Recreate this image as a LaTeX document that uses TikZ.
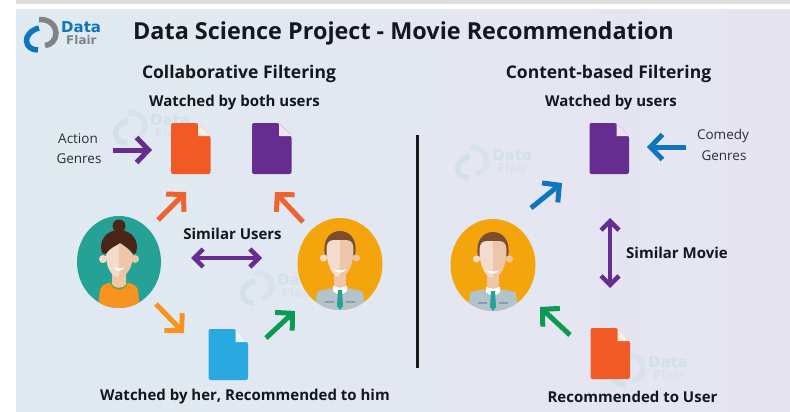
\documentclass[tikz,border=0pt]{standalone}
\usepackage{fontspec}
\setmainfont{Open Sans}
\newfontfamily\logofont{DejaVu Sans}
\usetikzlibrary{arrows.meta}
\definecolor{cPurple}{HTML}{652D90}
\definecolor{cOrange}{HTML}{F15A24}
\definecolor{cBlue}{HTML}{29A9E0}
\definecolor{cArrowBlue}{HTML}{0F75BC}
\definecolor{cGreen}{HTML}{0B9A50}
\definecolor{cLight}{HTML}{F7931E}
\definecolor{cOrangeArrow}{HTML}{EE6430}
\definecolor{cTeal}{HTML}{26A196}
\definecolor{cGold}{HTML}{F4A50E}
\definecolor{cInk}{HTML}{14181E}
\definecolor{cSuit}{HTML}{B3C3CC}
\definecolor{cNeck}{HTML}{EFC7A8}
\definecolor{cSkinL}{HTML}{F3DCCB}
\definecolor{cSkinR}{HTML}{EBC6A8}
\definecolor{cHairM}{HTML}{7C4E2E}
\definecolor{cHairW}{HTML}{4A2618}
\definecolor{cPocket}{HTML}{8C9CA8}
\definecolor{cCollar}{HTML}{5FA844}
\definecolor{wmBlue}{HTML}{D2E0EA}
\definecolor{wmSoft}{HTML}{D8E2EC}
\definecolor{cBgL}{HTML}{DFEAF1}
\definecolor{cBgR}{HTML}{E7E4F2}
\definecolor{cLogoGray}{HTML}{7F8487}
\tikzset{
  x=1pt,y=-1pt,
  heavy/.style={font=\bfseries\fontsize{#1}{#1}\selectfont,text=cInk,inner sep=0pt,anchor=center},
  light/.style={font=\fontsize{#1}{#1}\selectfont,text=cInk!90,inner sep=0pt,anchor=center},
  single/.style={line width=5pt,draw=#1,-{Straight Barb[length=12pt,width=25pt,line width=5pt]}},
  both/.style={line width=4.5pt,draw=#1,{Straight Barb[length=9pt,width=18pt,line width=4.5pt]}-{Straight Barb[length=9pt,width=18pt,line width=4.5pt]}},
  pics/docicon/.style={code={
    \fill[#1,rounded corners=2pt] (0,0) -- (27,0) -- (39.5,13) -- (39.5,51) -- (0,51) -- cycle;
    \fill[white!88!#1] (27,0) -- (39.5,13) -- (27,13) -- cycle;
  }},
  pics/logomark/.style n args={3}{code={
    \draw[#2,line width=5.5pt] (-2,-13.5) .. controls (9,-14) and (15,-7) .. (15,0) .. controls (15,7) and (10,12) .. (4,12.5);
    \draw[#1,line width=5.5pt] (-2,-5) .. controls (-10,-3) and (-15,3) .. (-14.5,8) .. controls (-14,14) and (-9,17) .. (-3,17);
    \node[font=\logofont\bfseries\fontsize{15}{15}\selectfont,text=#1,inner sep=0pt,anchor=west] (-wordA) at (20,-6) {Data};
    \node[font=\logofont\bfseries\fontsize{12}{12}\selectfont,text=#3,inner sep=0pt,anchor=west] (-wordB) at (25,7) {Flair};
  }},
  pics/manface/.style={code={
    \fill[cGold] (0,0) ellipse [x radius=42.5,y radius=46];
    \begin{scope}
      \clip (0,0) ellipse [x radius=42.5,y radius=46];
      \fill[cSuit] (-25,46) -- (-23,28) .. controls (-15,23) and (15,23) .. (23,28) -- (25,46) -- cycle;
    \end{scope}
    \fill[cNeck] (-6,8) rectangle (6,24);
    \fill[cHairM] (-15,-9) .. controls (-18,-24) and (-10,-33) .. (0,-33) .. controls (10,-33) and (18,-24) .. (15,-9) -- (13,-9) -- (13,-20) -- (-13,-20) -- (-13,-9) -- cycle;
    \fill[cSkinL] (-16.5,-6) circle (3.5);
    \fill[cSkinR] (16.5,-6) circle (3.5);
    \fill[cSkinL] (0,-24) -- (-6,-24) .. controls (-12,-24) and (-13.5,-20) .. (-13.5,-14) .. controls (-13.5,0) and (-8,13) .. (0,13) -- cycle;
    \fill[cSkinR] (0,-24) -- (6,-24) .. controls (12,-24) and (13.5,-20) .. (13.5,-14) .. controls (13.5,0) and (8,13) .. (0,13) -- cycle;
    \fill[white] (-6,5) .. controls (-3,7) and (3,7) .. (6,5) .. controls (4,10) and (-4,10) .. (-6,5) -- cycle;
    \fill[white] (-7,22) -- (0,24) -- (7,22) -- (7,27) -- (3,30) -- (0,26) -- (-3,30) -- (-7,27) -- cycle;
    \fill[cTeal] (-2,26) -- (2,26) -- (3,42) -- (0,46) -- (-3,42) -- cycle;
    \fill[cPocket] (-15,37) rectangle (-6,38.5);
    \fill[cPocket] (6,37) rectangle (15,38.5);
  }},
}
\begin{document}
\begin{tikzpicture}
\useasboundingbox (0,0) rectangle (790,412);
\fill[white] (0,0) rectangle (790,412);
\fill[gray!25] (16,0) rectangle (790,4);
\shade[left color=cBgL,right color=cBgR] (16,10) rectangle (790,412);
\pic (wmA) at (130,126) {logomark={wmBlue}{wmSoft}{wmSoft}};
\pic (wmB) at (257,286) {logomark={wmBlue}{wmSoft}{wmSoft}};
\pic (wmC) at (472,161) {logomark={wmBlue}{wmSoft}{wmSoft}};
\pic (wmD) at (628,368) {logomark={wmBlue}{wmSoft}{wmSoft}};
\pic (logo) at (41,33) {logomark={cArrowBlue}{cLogoGray}{cLogoGray}};

\node[heavy=23.4] (title) at (403.5,33) {Data Science Project - Movie Recommendation};
\node[heavy=17.5] (colab) at (239,74) {Collaborative Filtering};
\node[heavy=17.5] (content) at (608.5,74) {Content-based Filtering};
\node[heavy=15] (both) at (234.5,103) {Watched by both users};
\node[heavy=15] (byusers) at (611,103) {Watched by users};
\node[light=13.5] (action) at (78,139) {Action};
\node[light=13.5] (genresL) at (79,159) {Genres};
\node[light=13.5] (comedy) at (723,136) {Comedy};
\node[light=13.5] (genresR) at (724,156) {Genres};
\node[heavy=15] (simU) at (232.5,234) {Similar Users};
\node[heavy=15] (simM) at (677,253) {Similar Movie};
\node[heavy=15] (her) at (245,397) {Watched by her, Recommended to him};
\node[heavy=15] (rec) at (632.5,397) {Recommended to User};

\pic at (171,123) {docicon=cOrange};
\pic at (252,123) {docicon=cPurple};
\pic at (208.5,329) {docicon=cBlue};
\pic at (589.5,123) {docicon=cPurple};
\pic at (590.5,328) {docicon=cOrange};

% woman
\fill[cTeal] (119,262) ellipse [x radius=42,y radius=46];
\begin{scope}[shift={(119,262)}]
  \clip (0,0) ellipse [x radius=42,y radius=46];
  \fill[cLight] (-21,46) -- (-19,28) .. controls (-17,22) and (-12,21) .. (-8,21) -- (8,21) .. controls (12,21) and (17,22) .. (19,28) -- (21,46) -- cycle;
  \fill[cCollar] (-9,20) .. controls (-7,30) and (7,30) .. (9,20) -- cycle;
  \fill[cNeck] (-7,10) -- (7,10) -- (7,22) .. controls (5,27) and (-5,27) .. (-7,22) -- cycle;
\end{scope}
\begin{scope}[shift={(119,262)}]
  \fill[cHairW] (0,-36) circle (6.5);
  \fill[cSkinL] (-16,-3) circle (4);
  \fill[cSkinR] (16,-3) circle (4);
  \fill[cSkinL] (0,-22) -- (-13,-8) .. controls (-13,5) and (-8,15) .. (0,15) -- cycle;
  \fill[cSkinR] (0,-22) -- (14,-8) .. controls (14,5) and (8,15) .. (0,15) -- cycle;
  \fill[cHairW] (-13,-8) -- (-17,-9) .. controls (-21,-22) and (-12,-32) .. (0,-32) .. controls (12,-32) and (21,-22) .. (17,-9) -- (14,-8) .. controls (11,-13) and (7,-15) .. (1,-19) .. controls (-4,-15) and (-9,-15) .. (-13,-8) -- cycle;
  \fill[white] (-5,5) .. controls (-2,7) and (2,7) .. (5,5) .. controls (3,10) and (-3,10) .. (-5,5) -- cycle;
\end{scope}
\pic at (340,264) {manface};
\pic at (493,265) {manface};

% connectors
\coordinate (aA) at (113,150); \coordinate (aB) at (152,150);
\coordinate (oA) at (158,220); \coordinate (oB) at (186,192);
\coordinate (pA) at (303,222); \coordinate (pB) at (275,192);
\coordinate (sA) at (191,258); \coordinate (sB) at (262,258);
\coordinate (lA) at (156,304); \coordinate (lB) at (184,333);
\coordinate (gA) at (266,338); \coordinate (gB) at (295,311);
\coordinate (cA) at (686,147); \coordinate (cB) at (647,147);
\coordinate (dA) at (531,208); \coordinate (dB) at (562,183);
\coordinate (mA) at (610,218); \coordinate (mB) at (610,288);
\coordinate (hA) at (570,335); \coordinate (hB) at (540,307);
\coordinate (vA) at (417,135); \coordinate (vB) at (417,368);
\draw[single=cPurple] (aA) -- (aB);
\draw[single=cOrangeArrow] (oA) -- (oB);
\draw[single=cOrangeArrow] (pA) -- (pB);
\draw[both=cPurple] (sA) -- (sB);
\draw[single=cLight] (lA) -- (lB);
\draw[single=cGreen] (gA) -- (gB);
\draw[single=cArrowBlue] (cA) -- (cB);
\draw[single=cArrowBlue] (dA) -- (dB);
\draw[both=cPurple] (mA) -- (mB);
\draw[single=cGreen] (hA) -- (hB);
\draw[line width=3pt,draw=black!90] (vA) -- (vB);
\end{tikzpicture}
\end{document}
